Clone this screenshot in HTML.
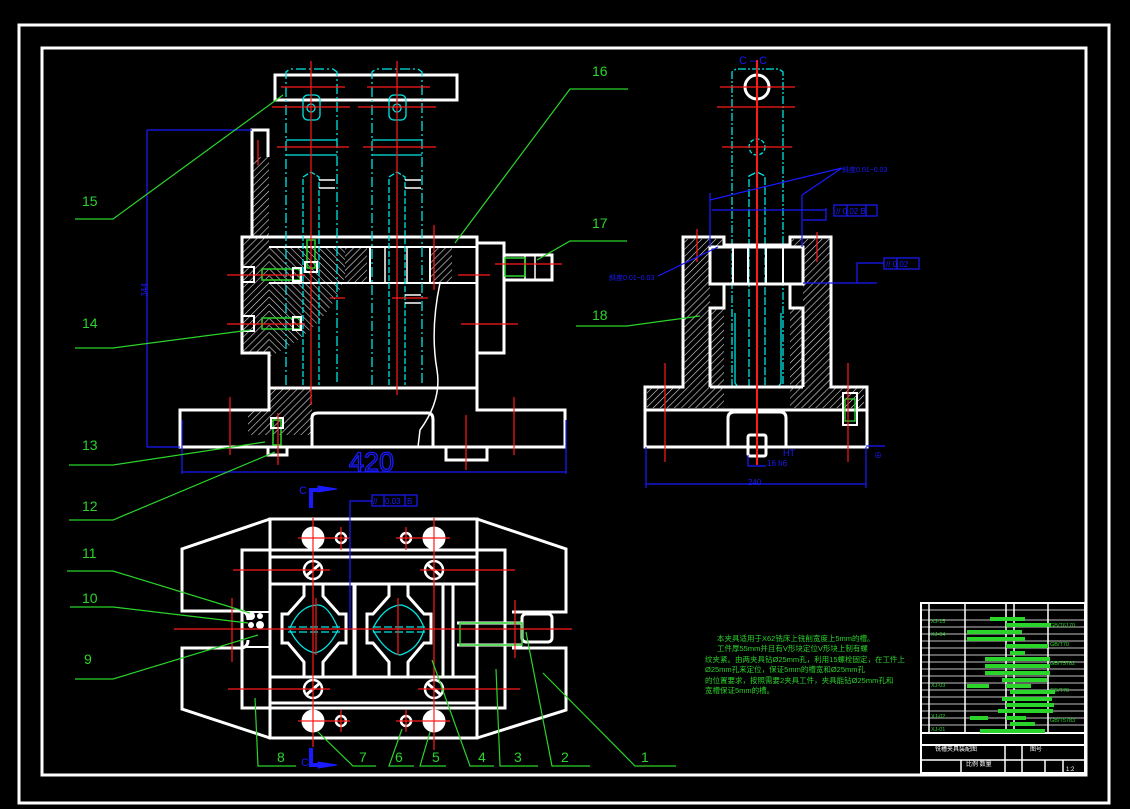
<!DOCTYPE html>
<html><head><meta charset="utf-8"><style>
html,body{margin:0;padding:0;background:#000;width:1130px;height:809px;overflow:hidden}
svg{display:block}
text{font-family:"Liberation Sans","Noto Sans CJK SC",sans-serif}
</style></head><body>
<svg width="1130" height="809" viewBox="0 0 1130 809" xmlns="http://www.w3.org/2000/svg">
<defs>
<pattern id="h" width="5" height="5" patternUnits="userSpaceOnUse" patternTransform="rotate(45)">
<rect width="5" height="5" fill="#000"/><line x1="0" y1="0" x2="0" y2="5" stroke="#ddd" stroke-width="1.2"/></pattern>
<pattern id="h2" width="5" height="5" patternUnits="userSpaceOnUse" patternTransform="rotate(-45)">
<rect width="5" height="5" fill="#000"/><line x1="0" y1="0" x2="0" y2="5" stroke="#ddd" stroke-width="1.2"/></pattern>
</defs>
<rect x="0" y="0" width="1130" height="809" fill="#000"/>
<rect x="19" y="25" width="1090" height="778" fill="none" stroke="#fff" stroke-width="3"/>
<rect x="42" y="48" width="1044" height="727" fill="none" stroke="#fff" stroke-width="3"/>

<!-- ================= FRONT VIEW ================= -->
<g fill="none">
<rect x="253" y="157" width="16" height="196" fill="url(#h)"/>
<rect x="242" y="238" width="27" height="115" fill="url(#h)"/>
<path d="M269 248 L350 248 Q345 320 269 357 Z" fill="url(#h2)"/>
<rect x="345" y="248" width="22" height="35" fill="url(#h)"/>
<rect x="430" y="248" width="22" height="35" fill="url(#h)"/>
<rect x="269" y="388" width="43" height="47" fill="url(#h)"/>
<rect x="248" y="410" width="22" height="25" fill="url(#h)"/>
</g>
<g fill="none" stroke="#fff" stroke-width="3">
<rect x="275" y="75" width="182" height="25"/>
<path d="M252 237 V130 H268 V157"/>
<path d="M242 237 H477 V388 H269 V353 H242 Z"/>
<path d="M477 243 H504 V353 H477"/>
<line x1="269" y1="247" x2="477" y2="247" stroke-width="2"/>
<line x1="269" y1="283" x2="477" y2="283" stroke-width="2"/>
<path d="M269 388 V410 H180 V447 H565 V410 H477 V388"/>
<path d="M312 447 V418 Q312 413 318 413 H428 Q433 413 433 420 V447"/>
<path d="M446 447 V460 H487 V447"/>
<path d="M268 447 V455 H287 V447"/>
<path d="M503 255 H552 V280 H503"/>
<rect x="242" y="267" width="12" height="15" stroke-width="2"/>
<rect x="242" y="316" width="12" height="15" stroke-width="2"/>
<rect x="370" y="247" width="60" height="36" stroke-width="2"/>
</g>
<g stroke="#fff" stroke-width="1.5" fill="none">
<line x1="385" y1="247" x2="385" y2="283"/><line x1="407" y1="247" x2="407" y2="283"/>
<path d="M440 283 Q430 330 437 370 Q442 400 420 430 L418 447"/>
<line x1="525" y1="255" x2="525" y2="280"/><line x1="535" y1="255" x2="535" y2="280"/>
</g>
<g fill="none" stroke="#00e5e5" stroke-width="1.3">
<path d="M286 385 V72 L290 69 H333 L337 72 V385" stroke-dasharray="10 3 2 3"/>
<path d="M372 385 V72 L376 69 H418 L422 72 V385" stroke-dasharray="10 3 2 3"/>
<path d="M303 385 V177 L311 172 L319 177 V385" stroke-dasharray="6 2"/>
<path d="M389 385 V177 L397 172 L405 177 V385" stroke-dasharray="6 2"/>
<line x1="286" y1="140" x2="337" y2="140"/><line x1="286" y1="155" x2="337" y2="155"/>
<line x1="372" y1="140" x2="422" y2="140"/><line x1="372" y1="155" x2="422" y2="155"/>
<rect x="303" y="95" width="17" height="25" rx="5"/><rect x="389" y="95" width="17" height="25" rx="5"/>
<circle cx="311" cy="108" r="4"/><circle cx="397" cy="108" r="4"/>
</g>
<g fill="none" stroke="#fff" stroke-width="1.5">
<path d="M319 180 H335 M319 188 H335 M405 180 H421 M405 188 H421 M405 295 H421 M405 303 H421"/>
</g>
<g fill="none" stroke="#2bd42b" stroke-width="1.5">
<rect x="262" y="269" width="38" height="11"/><rect x="262" y="318" width="38" height="11"/>
<rect x="307" y="240" width="8" height="28"/>
<rect x="273" y="420" width="8" height="25"/>
<rect x="505" y="258" width="20" height="18"/>
</g>
<g fill="none" stroke="#fff" stroke-width="2">
<rect x="293" y="268" width="8" height="13"/><rect x="293" y="317" width="8" height="13"/>
<rect x="305" y="262" width="12" height="10"/>
<rect x="271" y="418" width="12" height="10"/>
</g>
<g stroke="#ff1a1a" stroke-width="1.2">
<line x1="311" y1="61" x2="311" y2="405"/><line x1="397" y1="61" x2="397" y2="395"/>
<line x1="281" y1="87" x2="345" y2="87"/><line x1="367" y1="87" x2="430" y2="87"/>
<line x1="272" y1="107" x2="350" y2="107"/><line x1="358" y1="107" x2="436" y2="107"/>
<line x1="277" y1="147" x2="349" y2="147"/><line x1="363" y1="147" x2="436" y2="147"/>
<line x1="227" y1="275" x2="305" y2="275"/><line x1="227" y1="324" x2="305" y2="324"/>
<line x1="495" y1="264" x2="562" y2="264"/>
<line x1="458" y1="275" x2="490" y2="275"/><line x1="461" y1="324" x2="518" y2="324"/>
<line x1="434" y1="225" x2="434" y2="290"/>
<line x1="258" y1="140" x2="258" y2="165"/>
<line x1="230" y1="397" x2="230" y2="455"/><line x1="466" y1="415" x2="466" y2="470"/><line x1="514" y1="397" x2="514" y2="455"/>
<line x1="278" y1="413" x2="278" y2="465"/>
<line x1="330" y1="298" x2="345" y2="298"/><line x1="392" y1="298" x2="428" y2="298"/>
</g>
<g stroke="#1a1aff" stroke-width="1.2" fill="none">
<line x1="147" y1="130" x2="252" y2="130"/><line x1="147" y1="130" x2="147" y2="447"/><line x1="147" y1="447" x2="180" y2="447"/>
<line x1="182" y1="420" x2="182" y2="474"/><line x1="566" y1="420" x2="566" y2="474"/><line x1="182" y1="472" x2="566" y2="472"/>
</g>
<text x="349" y="471" fill="none" stroke="#1a1aff" stroke-width="1.3" font-size="27">420</text>
<text x="147" y="290" fill="#1a1aff" font-size="8" transform="rotate(-90 147 290)" text-anchor="middle">344</text>

<!-- ================= PLAN VIEW ================= -->
<g fill="none" stroke="#fff" stroke-width="3">
<path d="M270 519 L182 549 V611 H240 Q248 611 248 620"/>
<path d="M270 738 L182 709 V648 H240 Q248 648 248 640"/>
<path d="M477 519 L566 549 V612 H512"/>
<path d="M477 738 L566 710 V648 H512"/>
<rect x="270" y="519" width="207" height="219"/>
<rect x="242" y="550" width="263" height="158"/>
<line x1="270" y1="557" x2="477" y2="557"/><line x1="270" y1="584" x2="477" y2="584"/>
<line x1="270" y1="677" x2="477" y2="677"/><line x1="270" y1="703" x2="477" y2="703"/>
<line x1="354" y1="584" x2="354" y2="677"/><line x1="355" y1="584" x2="355" y2="677"/>
<line x1="443" y1="584" x2="443" y2="677"/><line x1="453" y1="584" x2="453" y2="677"/>
<path d="M304 584 V596 L288 614 H282 V643 H288 L304 662 V677 M323 584 V596 L339 614 H346 V643 H339 L323 662 V677"/>
<path d="M389 584 V596 L373 614 H367 V643 H373 L389 662 V677 M408 584 V596 L424 614 H431 V643 H424 L408 662 V677"/>
<path d="M457 623 H522 M457 645 H522"/>
<rect x="522" y="614" width="30" height="28" rx="4"/>
<rect x="242" y="612" width="28" height="35" stroke-width="2"/>
</g>
<g fill="none" stroke="#00e5e5" stroke-width="1.3">
<path d="M290 628 Q300 605 318 605 M338 628 Q328 605 318 605"/><path d="M290 630 Q300 650 315 653 M338 630 Q328 650 315 653"/>
<line x1="288" y1="627" x2="340" y2="627" stroke-dasharray="8 3"/><line x1="288" y1="632" x2="340" y2="632" stroke-dasharray="8 3"/>
<path d="M373 628 Q385 605 402 605 Q418 610 424 628 M373 630 Q385 652 400 655 Q418 650 424 630"/>
<line x1="373" y1="627" x2="426" y2="627" stroke-dasharray="8 3"/><line x1="373" y1="632" x2="426" y2="632" stroke-dasharray="8 3"/>
</g>
<rect x="460" y="623" width="62" height="22" fill="none" stroke="#2bd42b" stroke-width="1.5"/>
<g fill="#fff" stroke="#fff">
<circle cx="313" cy="538" r="11"/><circle cx="434" cy="538" r="11"/>
<circle cx="313" cy="721" r="11"/><circle cx="434" cy="721" r="11"/>
</g>
<g fill="#000" stroke="#fff" stroke-width="2.5">
<circle cx="341" cy="538" r="5"/><circle cx="406" cy="538" r="5"/>
<circle cx="341" cy="721" r="5"/><circle cx="406" cy="721" r="5"/>
<circle cx="313" cy="570" r="9"/><circle cx="434" cy="570" r="9"/>
<circle cx="313" cy="689" r="9"/><circle cx="434" cy="689" r="9"/>
</g>
<g stroke="#fff" stroke-width="3">
<line x1="306" y1="576" x2="320" y2="564"/><line x1="427" y1="564" x2="441" y2="576"/>
<line x1="306" y1="695" x2="320" y2="683"/><line x1="427" y1="683" x2="441" y2="695"/>
</g>
<g fill="#fff"><circle cx="251" cy="616" r="4"/><circle cx="260" cy="616" r="3"/><circle cx="251" cy="625" r="3"/><circle cx="260" cy="625" r="4"/></g>
<g stroke="#ff1a1a" stroke-width="1.2">
<line x1="174" y1="629" x2="572" y2="629"/>
<line x1="313" y1="518" x2="313" y2="747"/><line x1="434" y1="518" x2="434" y2="750"/>
<line x1="298" y1="538" x2="350" y2="538"/><line x1="396" y1="538" x2="450" y2="538"/>
<line x1="298" y1="721" x2="350" y2="721"/><line x1="396" y1="721" x2="450" y2="721"/>
<line x1="341" y1="527" x2="341" y2="550"/><line x1="406" y1="527" x2="406" y2="550"/>
<line x1="341" y1="710" x2="341" y2="732"/><line x1="406" y1="710" x2="406" y2="732"/>
<line x1="233" y1="570" x2="330" y2="570"/><line x1="420" y1="570" x2="515" y2="570"/>
<line x1="228" y1="689" x2="330" y2="689"/><line x1="418" y1="689" x2="520" y2="689"/>
<line x1="316" y1="598" x2="316" y2="655"/><line x1="398" y1="598" x2="398" y2="655"/>
<line x1="232" y1="598" x2="232" y2="662"/><line x1="515" y1="600" x2="515" y2="658"/>
</g>
<g fill="#1a1aff" stroke="#1a1aff">
<path d="M311 508 V490 H318" stroke-width="4" fill="none"/><path d="M318 486 L337 489 L318 492 Z"/>
<path d="M311 748 V765 H318" stroke-width="4" fill="none"/><path d="M318 762 L337 765 L318 768 Z"/>
</g>
<text x="299" y="494" fill="#1a1aff" font-size="11">C</text>
<text x="301" y="766" fill="#1a1aff" font-size="11">C</text>
<g stroke="#1a1aff" stroke-width="1.2" fill="none">
<path d="M350 629 V501 H372"/><rect x="372" y="495" width="45" height="11"/>
<line x1="384" y1="495" x2="384" y2="506"/><line x1="405" y1="495" x2="405" y2="506"/>
</g>
<text x="385" y="504" fill="#1a1aff" font-size="8">0.03</text><text x="407" y="504" fill="#1a1aff" font-size="8">B</text>
<text x="373" y="504" fill="#1a1aff" font-size="8">//</text>

<!-- ================= SIDE VIEW ================= -->
<path d="M683 245 H710 V308 H724 V408 H647 V387 H683 Z" fill="url(#h)"/>
<path d="M831 245 H803 V308 H790 V408 H864 V387 H831 Z" fill="url(#h)"/>
<rect x="684" y="239" width="40" height="7" fill="url(#h)"/><rect x="791" y="239" width="39" height="7" fill="url(#h)"/>
<g fill="none" stroke="#00e5e5" stroke-width="1.3">
<path d="M732 387 V72 L736 69 H779 L783 72 V387" stroke-dasharray="8 2 2 2"/>
<path d="M749 387 V176 L757 172 L765 176 V387" stroke-dasharray="8 2"/>
<path d="M735 313 V383 L738 387 H778 L781 383 V313"/>
<circle cx="757" cy="147" r="8" stroke-dasharray="4 2"/>
</g>
<g fill="none" stroke="#fff" stroke-width="3">
<path d="M724 237 H683 V387 H645 V447 H867 V387 H831 V237 H790 V245 H724 Z"/>
<rect x="710" y="247" width="93" height="37"/>
<path d="M724 284 V308 H710 V387 M790 284 V308 H803 V387"/>
<line x1="710" y1="387" x2="803" y2="387"/>
<line x1="645" y1="410" x2="867" y2="410"/>
<path d="M728 447 V418 Q728 412 735 412 H780 Q786 412 786 418 V447"/>
<rect x="748" y="435" width="18" height="21" rx="2"/>
<circle cx="757" cy="87" r="12"/>
<line x1="733" y1="247" x2="733" y2="284" stroke-width="2"/><line x1="748" y1="247" x2="748" y2="284" stroke-width="2"/>
<line x1="766" y1="247" x2="766" y2="284" stroke-width="2"/><line x1="783" y1="247" x2="783" y2="284" stroke-width="2"/>
<rect x="843" y="393" width="14" height="32" stroke-width="2"/>
</g>
<rect x="845" y="399" width="10" height="22" fill="none" stroke="#2bd42b" stroke-width="1.3"/>
<g stroke="#ff1a1a" stroke-width="1.2">
<line x1="757" y1="60" x2="757" y2="465" stroke-width="2"/>
<line x1="720" y1="87" x2="795" y2="87"/><line x1="717" y1="107" x2="795" y2="107"/><line x1="722" y1="147" x2="792" y2="147"/>
<line x1="697" y1="229" x2="697" y2="262"/><line x1="817" y1="232" x2="817" y2="262"/>
<line x1="665" y1="363" x2="665" y2="462"/><line x1="848" y1="363" x2="848" y2="462"/>
</g>
<g stroke="#1a1aff" stroke-width="1.2" fill="none">
<line x1="646" y1="447" x2="646" y2="488"/><line x1="866" y1="447" x2="866" y2="488"/><line x1="646" y1="484" x2="866" y2="484"/>
<line x1="710" y1="193" x2="710" y2="247"/><line x1="802" y1="195" x2="802" y2="247"/>
<line x1="710" y1="200" x2="842" y2="168"/><line x1="802" y1="195" x2="842" y2="168"/>
<line x1="712" y1="210" x2="826" y2="210"/><path d="M803 220 H826 V208"/>
<rect x="834" y="205" width="43" height="11"/><line x1="847" y1="205" x2="847" y2="216"/><line x1="866" y1="205" x2="866" y2="216"/>
<line x1="658" y1="276" x2="718" y2="247"/>
<path d="M803 283 H877 M857 283 V263 H884"/><rect x="884" y="258" width="35" height="11"/><line x1="897" y1="258" x2="897" y2="269"/>
<path d="M748 455 V466 H766"/><line x1="866" y1="446" x2="885" y2="446"/>
</g>
<text x="739" y="64" fill="#1a1aff" font-size="11">C – C</text>
<text x="842" y="172" fill="#1a1aff" font-size="7">斜度0.01~0.03</text>
<text x="609" y="280" fill="#1a1aff" font-size="7">斜度0.01~0.03</text>
<text x="836" y="214" fill="#1a1aff" font-size="8">// 0.02 B</text>
<text x="886" y="267" fill="#1a1aff" font-size="8">// 0.02</text>
<text x="748" y="485" fill="#1a1aff" font-size="8">240</text>
<text x="783" y="456" fill="#1a1aff" font-size="9">HT</text>
<text x="767" y="466" fill="#1a1aff" font-size="8">16 h6</text>
<text x="874" y="458" fill="#1a1aff" font-size="8">⊕</text>

<!-- ================= LEADERS & LABELS ================= -->
<g stroke="#2bd42b" stroke-width="1.2" fill="none">
<path d="M75 219 H113 L283 95"/>
<path d="M75 348 H113 L250 330"/>
<path d="M69 465 H113 L265 442"/>
<path d="M69 520 H113 L275 452"/>
<path d="M67 571 H113 L250 613"/>
<path d="M70 607 H113 L248 623"/>
<path d="M75 679 H113 L258 635"/>
<path d="M628 89 H570 L455 243"/>
<path d="M627 241 H570 L537 260"/>
<path d="M576 326 H627 L700 316"/>
<path d="M255 698 L258 766 H296"/>
<path d="M318 732 L353 766 H376"/>
<path d="M402 729 L389 766 H414"/>
<path d="M430 732 L420 766 H446"/>
<path d="M432 660 L470 766 H494"/>
<path d="M496 669 L500 766 H538"/>
<path d="M526 632 L552 766 H590"/>
<path d="M543 673 L635 766 H676"/>
</g>
<g fill="#2bd42b" font-size="14">
<text x="592" y="76">16</text><text x="82" y="206">15</text><text x="592" y="228">17</text>
<text x="82" y="328">14</text><text x="592" y="320">18</text><text x="82" y="450">13</text>
<text x="82" y="511">12</text><text x="82" y="558">11</text><text x="82" y="603">10</text><text x="84" y="664">9</text>
<text x="277" y="762">8</text><text x="359" y="762">7</text><text x="395" y="762">6</text><text x="432" y="762">5</text>
<text x="478" y="762">4</text><text x="514" y="762">3</text><text x="561" y="762">2</text><text x="641" y="762">1</text>
</g>

<g fill="#2bd42b" font-size="7.5" font-family="Noto Sans CJK SC, sans-serif">
<text x="717" y="641">本夹具适用于X62铣床上铣削宽度上5mm的槽。</text>
<text x="717" y="651">工件厚55mm并且有V形块定位V形块上制有螺</text>
<text x="705" y="662">纹夹紧。由两夹具钻Ø25mm孔，利用15螺栓固定，在工件上</text>
<text x="705" y="672">Ø25mm孔来定位，保证5mm的槽宽和Ø25mm孔</text>
<text x="705" y="683">的位置要求，按照需要2夹具工件，夹具能钻Ø25mm孔和</text>
<text x="705" y="693">宽槽保证5mm的槽。</text>
</g>

<g fill="none" stroke="#fff" stroke-width="1.5">
<rect x="921" y="603" width="164" height="170" stroke-width="2"/>
<line x1="929" y1="603" x2="929" y2="733"/><line x1="965" y1="603" x2="965" y2="733"/>
<line x1="1006" y1="603" x2="1006" y2="733"/><line x1="1014" y1="603" x2="1014" y2="733"/><line x1="1048" y1="603" x2="1048" y2="733"/>
<line x1="921" y1="733" x2="1085" y2="733" stroke-width="2"/>
<line x1="921" y1="745" x2="1085" y2="745" stroke-width="2"/>
<line x1="921" y1="760" x2="1085" y2="760"/><line x1="1005" y1="745" x2="1005" y2="773"/>
<line x1="1022" y1="745" x2="1022" y2="773"/><line x1="1045" y1="760" x2="1045" y2="773"/><line x1="1063" y1="760" x2="1063" y2="773"/>
<line x1="961" y1="760" x2="961" y2="773"/>
</g>
<g stroke="#fff" stroke-width="0.8">
<line x1="921" y1="610" x2="1085" y2="610"/><line x1="921" y1="620" x2="1085" y2="620"/><line x1="921" y1="627" x2="1085" y2="627"/>
<line x1="921" y1="634" x2="1085" y2="634"/><line x1="921" y1="641" x2="1085" y2="641"/><line x1="921" y1="648" x2="1085" y2="648"/>
<line x1="921" y1="655" x2="1085" y2="655"/><line x1="921" y1="662" x2="1085" y2="662"/><line x1="921" y1="669" x2="1085" y2="669"/>
<line x1="921" y1="676" x2="1085" y2="676"/><line x1="921" y1="683" x2="1085" y2="683"/><line x1="921" y1="690" x2="1085" y2="690"/>
<line x1="921" y1="697" x2="1085" y2="697"/><line x1="921" y1="704" x2="1085" y2="704"/><line x1="921" y1="711" x2="1085" y2="711"/>
<line x1="921" y1="718" x2="1085" y2="718"/><line x1="921" y1="725" x2="1085" y2="725"/>
</g>
<g fill="#2bd42b">
<rect x="990" y="617" width="35" height="4"/><rect x="1006" y="623" width="45" height="4"/><rect x="967" y="630" width="55" height="4"/>
<rect x="967" y="637" width="58" height="4"/><rect x="1006" y="644" width="42" height="4"/><rect x="1010" y="651" width="15" height="4"/>
<rect x="985" y="657" width="65" height="4"/><rect x="985" y="664" width="65" height="4"/><rect x="985" y="671" width="65" height="4"/>
<rect x="1002" y="678" width="45" height="4"/><rect x="967" y="684" width="22" height="4"/><rect x="1006" y="684" width="25" height="4"/>
<rect x="1010" y="690" width="45" height="4"/><rect x="1002" y="697" width="50" height="4"/><rect x="1006" y="703" width="48" height="4"/>
<rect x="998" y="709" width="55" height="4"/><rect x="970" y="716" width="18" height="4"/><rect x="1006" y="716" width="20" height="4"/>
<rect x="1010" y="722" width="25" height="4"/><rect x="980" y="729" width="65" height="4"/>
</g>
<g fill="#2bd42b" font-size="5.5">
<text x="931" y="623">XJ-15</text><text x="931" y="636">XJ-04</text><text x="931" y="687">XJ-03</text><text x="931" y="718">XJ-02</text><text x="931" y="731">XJ-01</text>
<text x="1050" y="627">GB/T6170</text><text x="1050" y="646">GB/T70</text><text x="1050" y="665">GB/T5782</text><text x="1050" y="692">GB/T70</text><text x="1050" y="722">GB/T5783</text>
</g>
<g fill="#fff" font-size="6">
<text x="935" y="751">铣槽夹具装配图</text><text x="966" y="766">比例 数量</text><text x="1030" y="751">图号</text><text x="1066" y="771">1:2</text>
</g>
</svg>
</body></html>
